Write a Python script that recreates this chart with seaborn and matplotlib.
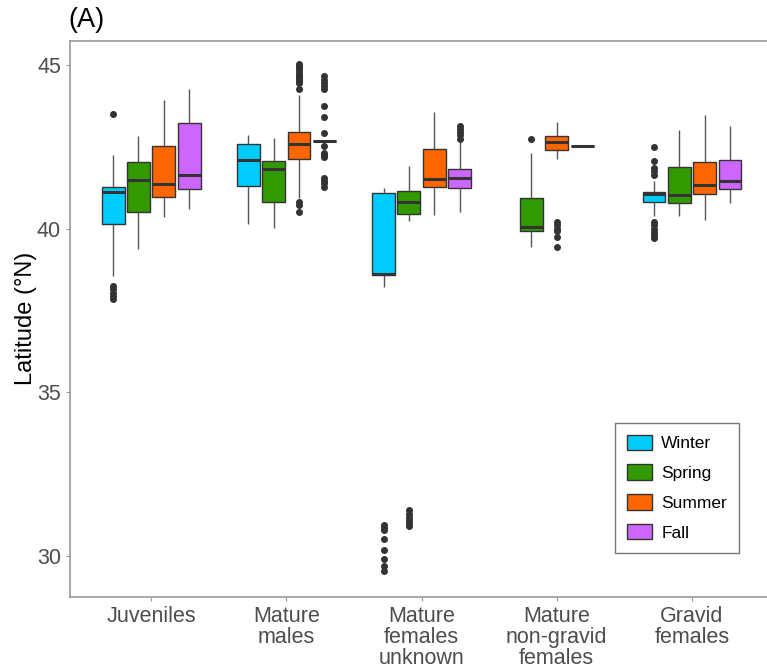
import numpy as np
import pandas as pd
import matplotlib
matplotlib.use("Agg")
import matplotlib.pyplot as plt
import seaborn as sns

categories = ["Juveniles", "Mature\nmales", "Mature\nfemales\nunknown",
              "Mature\nnon-gravid\nfemales", "Gravid\nfemales"]
seasons = ["Winter", "Spring", "Summer", "Fall"]
palette = {"Winter": "#00CCFF", "Spring": "#339900", "Summer": "#FF6600", "Fall": "#CC66FF"}

# box summary values, per season across categories (None = no data)
whisker_low = {
    "Winter": [38.55, 40.13, 38.21, None, 40.39],
    "Spring": [39.38, 40.03, 40.23, 39.43, 40.40],
    "Summer": [40.35, 40.93, 40.42, 42.14, 40.25],
    "Fall":   [40.59, 42.68, 40.52, 42.53, 40.77],
}
quart1 = {
    "Winter": [40.14, 41.30, 38.57, None, 40.82],
    "Spring": [40.50, 40.82, 40.44, 39.94, 40.77],
    "Summer": [40.96, 42.13, 41.28, 42.39, 41.05],
    "Fall":   [41.21, 42.68, 41.23, 42.53, 41.22],
}
median = {
    "Winter": [41.11, 42.09, 38.62, None, 41.05],
    "Spring": [41.50, 41.83, 40.82, 40.06, 41.02],
    "Summer": [41.36, 42.58, 41.51, 42.65, 41.34],
    "Fall":   [41.65, 42.68, 41.56, 42.53, 41.47],
}
quart3 = {
    "Winter": [41.28, 42.59, 41.10, None, 41.13],
    "Spring": [42.05, 42.07, 41.15, 40.95, 41.87],
    "Summer": [42.52, 42.96, 42.42, 42.84, 42.05],
    "Fall":   [43.24, 42.68, 41.81, 42.53, 42.10],
}
whisker_high = {
    "Winter": [42.25, 42.86, 41.25, None, 41.47],
    "Spring": [42.84, 42.78, 41.91, 42.30, 43.01],
    "Summer": [43.92, 44.08, 43.57, 43.26, 43.48],
    "Fall":   [44.26, 42.68, 42.66, 42.53, 43.15],
}
outliers = {
    ("Juveniles", "Winter"): [43.5, 38.25, 38.15, 38.05, 37.95, 37.85],
    ("Mature\nmales", "Summer"): [45.03, 44.97, 44.9, 44.83, 44.76, 44.7, 44.63, 44.56,
                                  44.5, 44.45, 44.26, 40.82, 40.72, 40.52],
    ("Mature\nmales", "Fall"): [44.66, 44.55, 44.45, 44.35, 44.26, 43.75, 43.4, 42.91,
                                42.52, 42.32, 42.25, 42.18, 41.55, 41.45, 41.38, 41.28],
    ("Mature\nfemales\nunknown", "Winter"): [30.95, 30.85, 30.79, 30.53, 30.2, 29.9, 29.69, 29.54],
    ("Mature\nfemales\nunknown", "Spring"): [31.4, 31.3, 31.2, 31.1, 31.0, 30.92],
    ("Mature\nfemales\nunknown", "Fall"): [42.75, 42.85, 42.95, 43.05, 43.14],
    ("Mature\nnon-gravid\nfemales", "Spring"): [42.73],
    ("Mature\nnon-gravid\nfemales", "Summer"): [40.2, 40.1, 40.0, 39.92, 39.75, 39.43],
    ("Gravid\nfemales", "Winter"): [42.49, 42.08, 41.84, 41.75, 41.64,
                                    40.21, 40.1, 40.0, 39.9, 39.8, 39.7],
}

# expand each summary into a sample whose quartiles reproduce it
rows = []
m = 50
for s in seasons:
    for i, c in enumerate(categories):
        if median[s][i] is None:
            continue
        vals = ([whisker_low[s][i]] + [quart1[s][i]] * m + [median[s][i]] * m +
                [quart3[s][i]] * m + [whisker_high[s][i]] + outliers.get((c, s), []))
        rows += [(c, s, v) for v in vals]
df = pd.DataFrame(rows, columns=["group", "season", "lat"])

plt.rcParams["font.family"] = ["Liberation Sans", "DejaVu Sans"]
fig = plt.figure(figsize=(7.67, 6.71), dpi=100)
ax = fig.add_axes([70 / 767, 1 - 596.7 / 671, 697 / 767, 556 / 671])

common = dict(x="group", y="lat", hue="season", order=categories, gap=0.1,
              saturation=1, linecolor="#333333", linewidth=1.0, showcaps=False,
              medianprops=dict(color="#333333", linewidth=2.2),
              whiskerprops=dict(color="#555555", linewidth=1.0),
              flierprops=dict(marker="o", markersize=4, markerfacecolor="#333333",
                              markeredgecolor="#333333"),
              ax=ax)

ng = categories[3]
sns.boxplot(data=df[df.group != ng], hue_order=seasons, palette=palette,
            width=0.75, **common)
sns.boxplot(data=df[df.group == ng], hue_order=seasons[1:], palette=palette,
            width=0.75 * 3 / 4, legend=False, **common)

ax.set_xlim(-0.6, 4.555)
ax.set_ylim(28.76, 45.74)
ax.set_yticks([30, 35, 40, 45])
ax.set_xlabel("")
ax.set_ylabel("Latitude (°N)", fontsize=17, color="black", labelpad=0)
for side in ["left", "bottom", "top"]:
    ax.spines[side].set_color("#999999")
    ax.spines[side].set_linewidth(1.2)
ax.spines["right"].set_visible(False)
ax.tick_params(axis="both", colors="#999999", length=3, labelsize=15.5,
               labelcolor="#4D4D4D")
ax.tick_params(axis="x", pad=4)
for lbl in ax.get_xticklabels():
    lbl.set_linespacing(1.0)

leg = ax.legend(loc="lower right", bbox_to_anchor=(0.96, 0.079), title=None,
                fontsize=12.5, frameon=True, fancybox=False, handlelength=1.4,
                handleheight=1.0, labelspacing=0.75, borderpad=0.7,
                handletextpad=0.55, borderaxespad=0)
leg.get_frame().set_edgecolor("#555555")
leg.get_frame().set_linewidth(1.0)

fig.text(68 / 767, 1 - 20 / 671, "(A)", fontsize=19.5, va="center", ha="left")
fig.savefig("out.png", dpi=100)
